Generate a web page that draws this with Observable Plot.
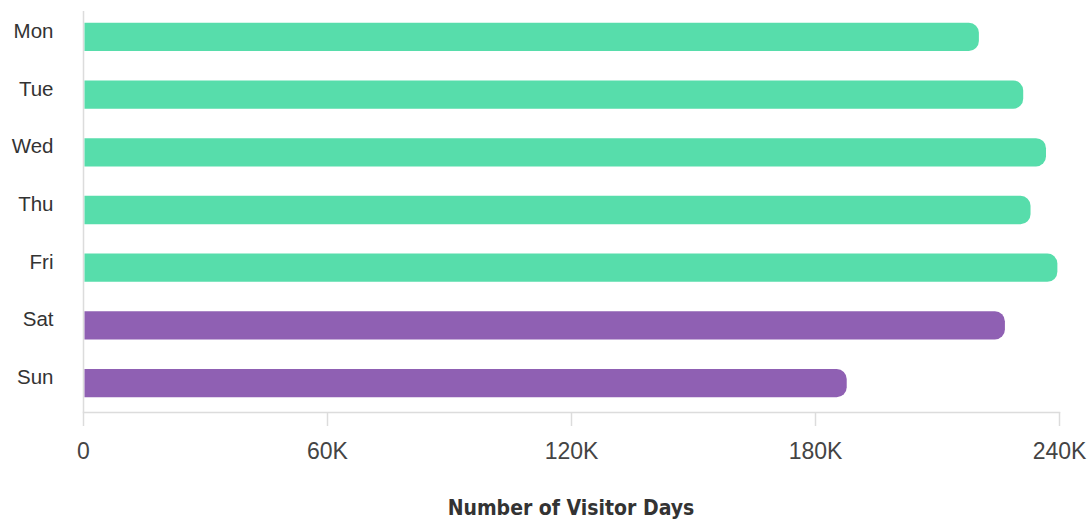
<!DOCTYPE html>
<html>
<head>
<meta charset="utf-8">
<script src="https://cdn.jsdelivr.net/npm/d3@7"></script>
<script src="https://cdn.jsdelivr.net/npm/@observablehq/plot@0.6"></script>
<style>
  html, body { margin: 0; padding: 0; background: #fff; }
  #chart svg { display: block; }
  #title {
    width: 1087px;
    box-sizing: border-box;
    padding-left: 83px;
    padding-right: 28px;
    text-align: center;
    font-family: "DejaVu Sans Condensed", "Liberation Sans Narrow", sans-serif;
    font-weight: bold;
    font-size: 21px;
    line-height: 30px;
    color: #333;
    margin-top: 13px;
  }
</style>
</head>
<body>
<div id="chart"></div>
<div id="title">Number of Visitor Days</div>
<script>
const days = ["Mon", "Tue", "Wed", "Thu", "Fri", "Sat", "Sun"];
const visitorDays = [220300, 231200, 236800, 233000, 239600, 226700, 187800];
const dayType = ["weekday", "weekday", "weekday", "weekday", "weekday", "weekend", "weekend"];
const xTicks = [0, 60000, 120000, 180000, 240000];
const typeNames = ["weekday", "weekend"];
const typeColors = ["#57DDAB", "#8F60B3"];

const data = days.map((d, i) => ({day: d, value: visitorDays[i], type: dayType[i]}));

const chart = Plot.plot({
  width: 1087,
  height: 480,
  marginLeft: 83,
  marginRight: 28,
  marginTop: 11,
  marginBottom: 68,
  insetTop: 6,
  insetBottom: 9,
  style: {fontFamily: "'Liberation Sans', Arial, sans-serif", background: "#fff"},
  x: {domain: [0, 240000], axis: null},
  y: {domain: days, paddingInner: 0.51, paddingOuter: 0.1, round: false, axis: null},
  color: {domain: typeNames, range: typeColors},
  marks: [
    Plot.frame({anchor: "bottom", stroke: "#dcdcdc", strokeWidth: 1.5}),
    Plot.ruleX([0], {stroke: "#dcdcdc", strokeWidth: 1.5}),
    Plot.barX(data, {x1: 0, x2: "value", y: "day", fill: "type", rx2: 10, insetLeft: 1.5}),
    Plot.axisX({ticks: xTicks, tickSize: 14, tickPadding: 16, stroke: "#dcdcdc", strokeWidth: 1.5,
      tickFormat: d => d === 0 ? "0" : (d / 1000) + "K", fontSize: 23, fill: "#444", label: null}),
    Plot.axisY({tickSize: 0, tickPadding: 30, fontSize: 20.5, fill: "#333", dy: -6, label: null})
  ]
});
document.getElementById("chart").appendChild(chart);
</script>
</body>
</html>
